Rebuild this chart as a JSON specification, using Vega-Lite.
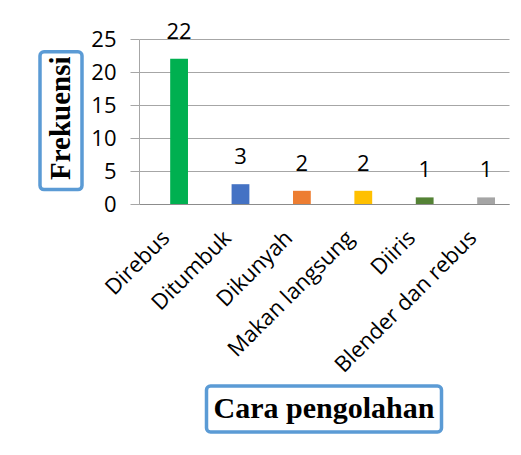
{
  "$schema": "https://vega.github.io/schema/vega-lite/v6.json",
  "padding": {"left": 38, "top": 20, "right": 5, "bottom": 5},
  "bounds": "flush",
  "spacing": 57,
  "config": {"view": {"stroke": null}, "font": "Open Sans"},
  "hconcat": [
    {
      "width": 42,
      "height": 165,
      "data": {"values": [{"label": "Frekuensi"}]},
      "layer": [
        {
          "mark": {"type": "rect", "fill": "white", "stroke": "#5B9BD5", "strokeWidth": 3.5, "cornerRadius": 4},
          "encoding": {
            "y": {"datum": 24, "type": "quantitative", "scale": {"domain": [0, 25]}, "axis": null},
            "y2": {"datum": 2.27}
          }
        },
        {
          "mark": {"type": "text", "angle": 270, "font": "Liberation Serif", "fontWeight": "bold", "fontSize": 29, "align": "center", "baseline": "middle", "color": "#000", "dx": 2},
          "encoding": {
            "y": {"datum": 13.2, "type": "quantitative"},
            "text": {"field": "label"}
          }
        }
      ]
    },
    {
      "bounds": "flush",
      "center": true,
      "spacing": 182,
      "vconcat": [
        {
          "width": 370,
          "height": 165,
          "data": {"values": [
            {"cara": "Direbus", "frekuensi": 22},
            {"cara": "Ditumbuk", "frekuensi": 3},
            {"cara": "Dikunyah", "frekuensi": 2},
            {"cara": "Makan langsung", "frekuensi": 2},
            {"cara": "Diiris", "frekuensi": 1},
            {"cara": "Blender dan rebus", "frekuensi": 1}
          ]},
          "encoding": {
            "x": {
              "field": "cara", "type": "nominal", "sort": null,
              "scale": {"paddingInner": 0.71, "paddingOuter": 0.368, "align": 0.69},
              "axis": {"title": null, "labelAngle": -45, "ticks": false, "domainColor": "#8c8c8c", "labelFontSize": 22, "labelColor": "#000", "labelPadding": 30, "labelOffset": -13, "labelLimit": 400, "labelAlign": "right", "labelBaseline": "middle", "labelFont": "Open Sans"}
            },
            "y": {
              "field": "frekuensi", "type": "quantitative",
              "scale": {"domain": [0, 25]},
              "axis": {"title": null, "values": [0, 5, 10, 15, 20, 25], "tickSize": 9, "tickColor": "#a6a6a6", "domainColor": "#a6a6a6", "gridColor": "#a6a6a6", "gridOpacity": 1, "labelFontSize": 22, "labelPadding": 14, "labelColor": "#000", "labelFont": "Open Sans"}
            }
          },
          "layer": [
            {
              "mark": {"type": "bar"},
              "encoding": {
                "color": {
                  "field": "cara", "type": "nominal", "legend": null,
                  "scale": {
                    "domain": ["Direbus", "Ditumbuk", "Dikunyah", "Makan langsung", "Diiris", "Blender dan rebus"],
                    "range": ["#00B050", "#4472C4", "#ED7D31", "#FFC000", "#548235", "#A5A5A5"]
                  }
                }
              }
            },
            {
              "mark": {"type": "text", "dy": -20, "baseline": "alphabetic", "fontSize": 22, "font": "Open Sans", "color": "#000"},
              "encoding": {"text": {"field": "frekuensi", "type": "quantitative"}}
            }
          ]
        },
        {
          "width": 235,
          "height": 46,
          "view": {"stroke": "#5B9BD5", "strokeWidth": 3.5, "cornerRadius": 4, "fill": "white"},
          "data": {"values": [{"label": "Cara pengolahan"}]},
          "mark": {"type": "text", "font": "Liberation Serif", "fontWeight": "bold", "fontSize": 30, "align": "center", "baseline": "middle", "color": "#000"},
          "encoding": {"text": {"field": "label"}}
        }
      ]
    }
  ]
}
